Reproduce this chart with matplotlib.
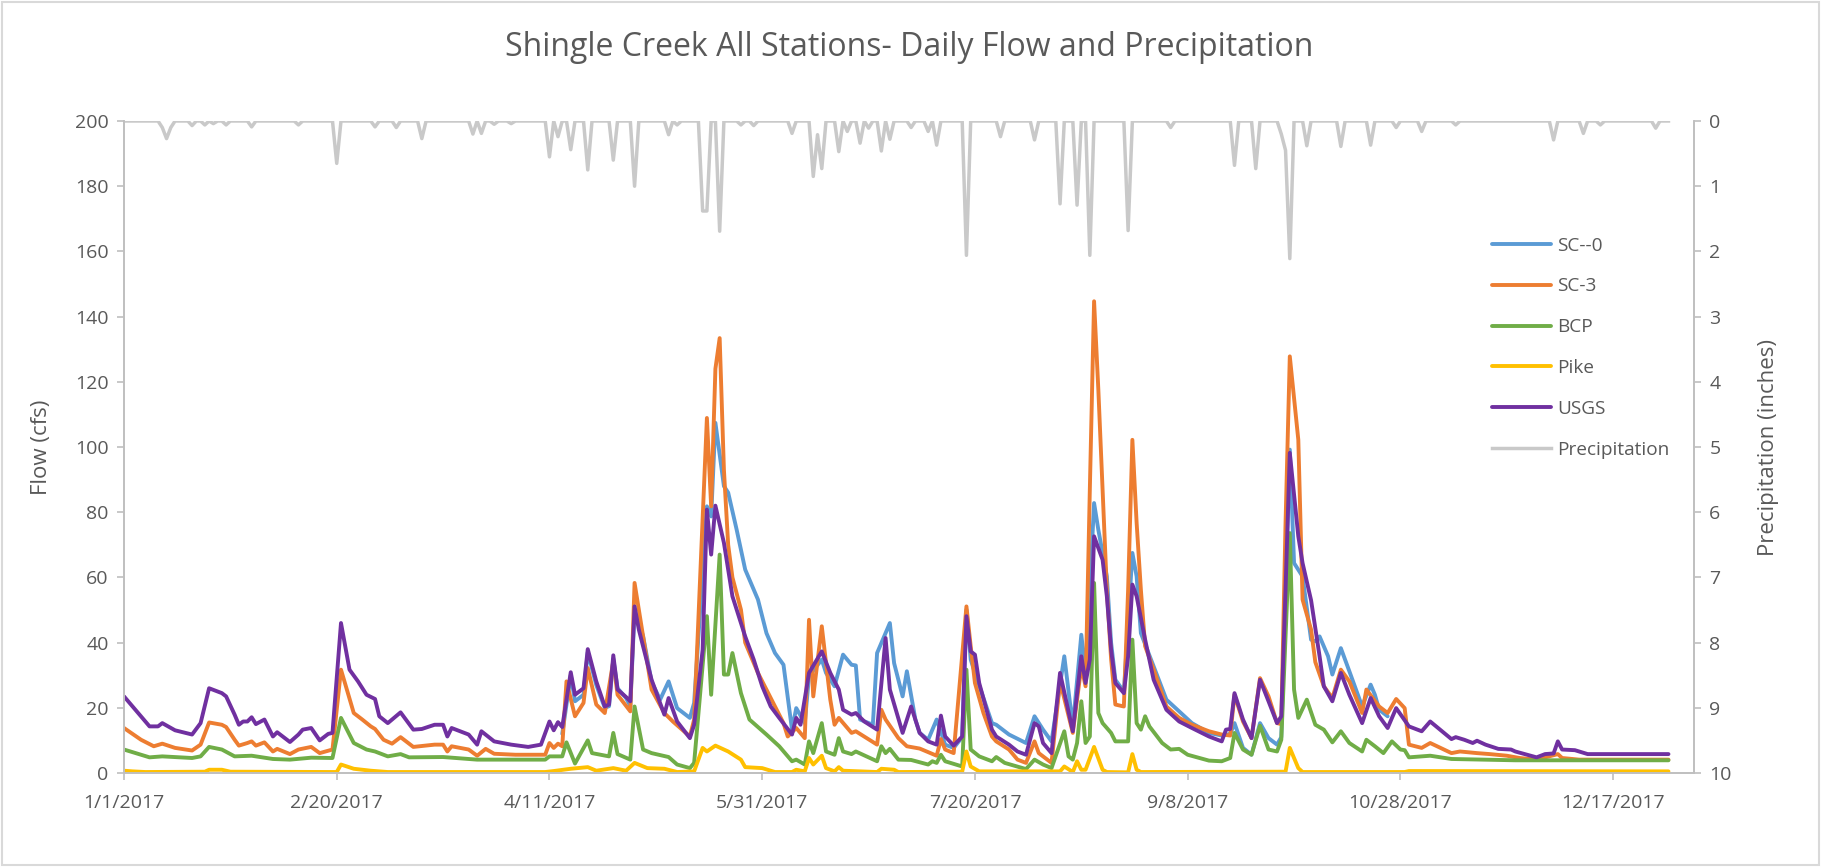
import numpy as np
import pandas as pd
import matplotlib
matplotlib.use('Agg')
import matplotlib.pyplot as plt
from matplotlib.ticker import FuncFormatter, MultipleLocator
from matplotlib.patches import Rectangle

# day-of-year (0 = 1/1/2017) and daily flow (cfs)
sc0_day = [103, 105, 106, 108, 109, 111, 113, 114, 115, 116, 118, 119, 120, 122, 124, 126, 128, 130, 133, 134,
           137, 138, 139, 141, 142, 144, 146, 149, 151, 153, 155, 157, 158, 160, 161, 164, 165, 167, 169, 171,
           172, 173, 176, 177, 180, 181, 183, 184, 186, 187, 189, 191, 193, 195, 197, 198, 199, 200, 204, 205,
           208, 212, 214, 216, 218, 221, 223, 225, 226, 228, 229, 231, 232, 233, 235, 236, 237, 238, 239, 242,
           245, 248, 251, 255, 258, 260, 261, 263, 265, 267, 269, 271, 272, 274, 275, 277, 279, 280, 281, 283,
           284, 286, 288, 291, 293, 294, 295, 297]
sc0_cfs = [12, 30, 22, 24, 37, 27, 20, 20.5, 35, 26, 23, 20.5, 50, 42, 28, 22.5, 28.1, 19.9, 16.9, 21.5,
           81.8, 78.7, 107.4, 88, 86, 74.6, 62.4, 53.2, 42.9, 36.8, 33.2, 13.3, 19.9, 15.3, 29.7, 34.8, 30.7, 26.6, 36.3, 33.2,
           33, 16.4, 14.8, 36.8, 46, 33.7, 23.5, 31.2, 16.4, 12.3, 10.2, 16.4, 8.7, 7.7, 11, 50.1, 34.8, 30.7, 15.3, 14.8,
           11.8, 9.2, 17.4, 13.3, 9.7, 35.8, 14.3, 42.4, 30.7, 82.8, 74.6, 60.3, 40, 28.6, 25, 46, 67.5, 60.3, 42.9, 32.7,
           22.5, 18.9, 15.3, 12.3, 11.5, 12, 15.3, 7.7, 5.6, 15.3, 10.7, 8.7, 11, 99.2, 64.4, 60.3, 40.9, 40.4, 41.9, 35.8,
           30.2, 38.3, 31.2, 20.4, 27.1, 24, 19.4, 17.4]

sc3_day = [0, 4, 7, 9, 12, 16, 18, 20, 23, 24, 26, 27, 29, 30, 31, 33, 35, 36, 39, 41, 44, 46, 49, 51, 54, 56, 58, 59,
           61, 63, 65, 68, 73, 75, 76, 77, 81, 83, 85, 87, 92, 99, 100, 101, 102, 103, 104, 106, 108, 109, 111, 113,
           115, 116, 119, 120, 122, 124, 127, 129, 133, 134, 137, 138, 139, 140, 141, 142, 143, 145, 146, 149, 153,
           155, 156, 158, 160, 161, 162, 164, 166, 167, 168, 171, 172, 177, 178, 179, 182, 184, 187, 191, 192, 193,
           195, 198, 199, 200, 202, 204, 205, 208, 210, 212, 214, 215, 218, 220, 223, 225, 226, 227, 228, 229, 230,
           231, 232, 233, 235, 236, 237, 238, 239, 240, 242, 245, 248, 251, 255, 258, 260, 261, 263, 265, 267, 269,
           271, 272, 273, 274, 276, 277, 279, 280, 282, 284, 286, 288, 291, 292, 295, 297, 299, 301, 302, 305, 307,
           312, 314, 318, 321, 325, 328, 332, 337, 338, 342, 363]
sc3_cfs = [13.8, 10.2, 8.2, 9, 7.7, 6.9, 8.7, 15.5, 14.8, 14.1, 10.2, 8.4, 9.2, 9.7, 8.4, 9.4, 6.6, 7.4, 5.8, 7.2, 8, 6.1, 7.2, 31.7, 18.4, 16.4, 14.3, 13.5,
           10.2, 9, 11, 8, 8.7, 8.7, 6.6, 8.2, 7.2, 5.3, 7.4, 5.9, 5.6, 5.6, 9.2, 7.7, 9, 8.2, 28.1, 17.4, 21.5, 32.2, 21, 18.4,
           34.3, 24, 18.9, 58.3, 41.9, 25.6, 18.4, 15.8, 11.2, 16.4, 108.9, 81.8, 124, 133.4, 93, 70, 60, 50.1, 40, 30.7, 20.4,
           15.3, 11.2, 13.8, 10.7, 47, 23.5, 45, 22.5, 14.8, 16.9, 12.3, 12.8, 8.7, 19.4, 16.4, 10.7, 8.2, 7.5, 5.3, 10.4, 7.2,
           6.1, 51.1, 38.9, 27.6, 18.4, 11.2, 9.7, 7.2, 4.1, 3.1, 9.7, 6.1, 3.1, 28.1, 12.3, 32.7, 26.6, 86.9, 144.7, 117.6, 86.9,
           56.2, 35, 21, 20.4, 56.2, 102.2, 76.7, 56.2, 38.9, 31.7, 20.4, 16.9, 14.8, 12.8, 11.8, 11.5, 24, 15.8, 10.7, 29.1, 23.5,
           15.3, 15, 76.7, 127.8, 102.2, 53.2, 44, 34, 26.6, 23, 31.7, 28.1, 18.4, 25.6, 20.4, 18.4, 22.7, 19.9, 8.7, 7.7, 9.2,
           6.1, 6.6, 6.1, 5.8, 5.3, 4.6, 4.1, 5.8, 4.6, 4.1, 4.1]

bcp_day = [0, 6, 9, 16, 18, 20, 23, 26, 30, 35, 39, 44, 49, 51, 54, 57, 59, 62, 65, 67, 75, 83, 99, 100, 103, 104, 106,
           109, 110, 114, 115, 116, 119, 120, 122, 124, 128, 130, 133, 134, 137, 138, 140, 141, 142, 143, 145, 147,
           151, 154, 157, 158, 160, 161, 162, 164, 165, 167, 168, 169, 171, 172, 177, 178, 179, 180, 182, 185, 189,
           190, 191, 192, 193, 197, 198, 199, 201, 204, 205, 207, 212, 214, 216, 218, 221, 222, 223, 224, 225, 226,
           227, 228, 229, 230, 232, 233, 236, 237, 238, 239, 240, 241, 244, 246, 248, 250, 255, 258, 260, 261, 263,
           265, 267, 269, 271, 272, 274, 275, 276, 278, 280, 282, 284, 286, 288, 291, 292, 294, 296, 298, 300, 301,
           302, 307, 312, 327, 363]
bcp_cfs = [7.2, 4.8, 5.1, 4.6, 5.1, 8, 7.2, 5.1, 5.3, 4.3, 4.1, 4.7, 4.6, 16.9, 9.2, 7.2, 6.6, 5.1, 5.8, 4.8, 4.9, 4.1, 4.1, 5.1, 5.1, 9.4, 2.9,
           10, 6.1, 5.1, 12.3, 5.8, 4.1, 20.4, 7.2, 6.1, 4.9, 2.6, 1.5, 3.1, 48.1, 24, 67, 30.2, 30.2, 36.8, 24.5, 16.4,
           11.8, 8.2, 3.6, 4.1, 2.6, 9.7, 6.1, 15.3, 6.6, 5.6, 10.7, 6.6, 5.8, 6.6, 3.6, 8.2, 6.1, 7.4, 4.1, 4, 2.6,
           3.6, 3.1, 5.6, 3.6, 2, 31.7, 7.2, 5.1, 3.6, 4.9, 3.1, 1.2, 4.1, 2.6, 1.5, 12.8, 5.1, 4.1, 9.2, 22, 9.2,
           11.2, 58.3, 18.4, 15.3, 12.3, 9.7, 9.7, 40.9, 15.3, 13.3, 17.4, 14.3, 9.2, 7.2, 7.4, 5.6, 3.8, 3.6, 4.6, 12.3, 7.2,
           5.6, 14.5, 7.2, 6.6, 10.2, 73.6, 25.6, 16.9, 22.5, 14.8, 13.3, 9.4, 12.8, 9.2, 6.6, 10.2, 8.2, 6.1, 9.7, 7.2, 7,
           4.8, 5.3, 4.3, 3.9, 3.9]

pike_day = [0, 2, 5, 19, 20, 23, 25, 50, 51, 54, 58, 62, 99, 101, 105, 109, 111, 115, 118, 120, 123, 127, 130, 134,
            136, 137, 139, 142, 145, 146, 150, 153, 157, 158, 160, 161, 162, 164, 165, 167, 168, 169, 177, 178, 181,
            182, 197, 198, 199, 201, 220, 221, 223, 224, 225, 226, 228, 230, 231, 236, 237, 238, 239, 273, 274, 276,
            277, 301, 302, 363]
pike_cfs = [0.7, 0.5, 0.3, 0.4, 1, 1, 0.4, 0.3, 2.6, 1.3, 0.7, 0.3, 0.3, 0.6, 1.3, 1.8, 0.7, 1.5, 0.7, 3.1, 1.5, 1.3, 0.3, 0.5,
            7.7, 6.6, 8.4, 6.6, 4.1, 1.8, 1.5, 0.3, 0.3, 1, 0.5, 4.6, 2.6, 5.3, 1.5, 0.5, 1.8, 0.7, 0.3, 1.3, 1,
            0.3, 0.4, 6.6, 2, 0.5, 0.5, 2, 0.3, 3.6, 1, 1, 8, 1, 0.3, 0.2, 5.8, 1, 0.3, 0.4, 7.7, 1.5,
            0.3, 0.3, 0.6, 0.5]

usgs_day = [0, 4, 6, 8, 9, 12, 16, 18, 20, 23, 24, 26, 27, 28, 29, 30, 31, 33, 35, 36, 39, 41, 42, 44, 46, 48, 49, 51,
            53, 55, 57, 59, 60, 62, 65, 68, 70, 73, 75, 76, 77, 81, 83, 84, 87, 91, 95, 98, 100, 101, 102, 103, 105,
            106, 108, 109, 111, 113, 114, 115, 116, 118, 119, 120, 121, 124, 127, 128, 130, 133, 134, 136, 137, 138,
            139, 141, 143, 146, 148, 150, 152, 154, 157, 158, 159, 161, 164, 166, 168, 169, 171, 172, 174, 177, 179,
            180, 183, 185, 187, 189, 191, 192, 193, 195, 197, 198, 199, 200, 201, 204, 205, 208, 210, 212, 214, 215,
            216, 218, 220, 223, 225, 226, 227, 228, 230, 231, 232, 233, 235, 236, 237, 238, 240, 242, 245, 248, 251,
            255, 258, 259, 260, 261, 263, 265, 267, 269, 271, 272, 273, 274, 276, 277, 279, 281, 282, 284, 286, 288,
            291, 293, 295, 297, 299, 302, 305, 307, 312, 313, 315, 317, 318, 320, 323, 326, 327, 332, 334, 336, 337,
            338, 341, 344, 363]
usgs_cfs = [23.5, 17.4, 14.3, 14.3, 15.3, 13.1, 11.8, 15.3, 26, 24.5, 23.5, 17.9, 14.8, 15.8, 15.8, 17.1, 15, 16.4, 11.2, 12.5, 9.5, 11.8, 13.3, 13.8, 10, 12, 12.3, 46,
            31.7, 28.1, 24, 22.7, 17.4, 15.3, 18.6, 13.3, 13.5, 14.8, 14.8, 11.2, 13.8, 11.8, 8.7, 12.8, 9.7, 8.7, 8, 8.7, 15.8, 13.1, 15.6, 14.1, 30.9,
            24, 26, 38, 28.1, 20.4, 21, 36.1, 25.6, 23.3, 22, 51.1, 44, 28.6, 17.9, 23, 15.8, 10.7, 14.8, 37.8, 80.8, 67,
            82, 70.6, 54.2, 41.9, 34.8, 26.6, 20.4, 16.9, 11.8, 16.9, 14.8, 30.7, 37.3, 30.7, 25.6, 19.4, 17.9, 18.4, 15.8, 13.3, 41.4,
            25.6, 12.3, 20.4, 12.3, 9.7, 8.7, 17.6, 11.2, 8.4, 11.2, 48.1, 37.3, 36.3, 27.6, 13.3, 11.2, 8.7, 6.6, 5.6, 15.3, 14.3,
            9.2, 6.1, 30.7, 12.8, 35.8, 27.6, 34.8, 72.6, 65.4, 54.2, 37.8, 27.6, 24.5, 35.8, 57.8, 54.2, 40.9, 28.6, 19.4, 15.8, 13.8,
            11.2, 9.7, 13.3, 13.5, 24.5, 16.4, 10.7, 28.6, 22, 15.3, 17.4, 56.2, 98.2, 72.6, 64.4, 53, 35.8, 26.6, 22, 30.7, 24,
            15.3, 23, 17.4, 13.8, 19.9, 14.3, 12.8, 15.8, 10.4, 11, 10.2, 9.2, 9.9, 8.7, 7.4, 7.2, 6.6, 4.8, 5.8, 6, 9.7,
            7.2, 7, 5.8, 5.8]

# precipitation (inches) on rainy days; all other days are 0
rain_day = [9, 10, 11, 16, 19, 21, 24, 30, 41, 50, 59, 64, 70, 82, 84, 87, 91, 100, 102, 105, 109, 115, 120, 128, 130,
            136, 137, 140, 145, 148, 157, 162, 163, 164, 168, 170, 173, 175, 178, 180, 185, 189, 191, 198, 206, 214,
            220, 224, 227, 236, 246, 261, 266, 272, 273, 274, 278, 286, 293, 299, 305, 313, 336, 343, 347, 360]
rain_in = [0.1, 0.27, 0.1, 0.07, 0.06, 0.04, 0.06, 0.09, 0.06, 0.65, 0.09, 0.1, 0.27, 0.2, 0.19, 0.05, 0.04, 0.55, 0.24, 0.44, 0.75, 0.6, 1.0, 0.21, 0.06,
           1.38, 1.38, 1.69, 0.06, 0.07, 0.19, 0.85, 0.21, 0.73, 0.47, 0.16, 0.34, 0.11, 0.46, 0.28, 0.1, 0.16, 0.37, 2.06, 0.24, 0.29,
           1.27, 1.29, 2.06, 1.68, 0.1, 0.68, 0.73, 0.2, 0.45, 2.11, 0.38, 0.39, 0.37, 0.1, 0.16, 0.06, 0.29, 0.19, 0.06, 0.11]

last_day = 363
start = pd.Timestamp('2017-01-01')

precip = pd.Series(0.0, index=np.arange(last_day + 1))
precip.loc[rain_day] = rain_in

text_col = '#595959'
axis_col = '#BFBFBF'
plt.rcParams['font.family'] = ['Open Sans', 'DejaVu Sans']

fig = plt.figure(figsize=(18.21, 8.67), dpi=100)
ax = fig.add_axes([124 / 1821, 1 - 773 / 867, 1570 / 1821, 652 / 867])
ax2 = ax.twinx()

series = [
    ('SC--0', sc0_day, sc0_cfs, '#5B9BD5'),
    ('SC-3', sc3_day, sc3_cfs, '#ED7D31'),
    ('BCP', bcp_day, bcp_cfs, '#70AD47'),
    ('Pike', pike_day, pike_cfs, '#FFC000'),
    ('USGS', usgs_day, usgs_cfs, '#7030A0'),
]
handles = []
for name, d, v, c in series:
    h, = ax.plot(d, v, color=c, lw=2.8, label=name, solid_joinstyle='round', solid_capstyle='round')
    handles.append(h)

hp, = ax2.plot(precip.index, precip.values, color='#C9C9C9', lw=2.5, label='Precipitation',
               solid_joinstyle='round')
handles.append(hp)

ax.set_xlim(0, 369)
ax.set_ylim(0, 200)
ax.yaxis.set_major_locator(MultipleLocator(20))
ax.xaxis.set_major_locator(MultipleLocator(50))


def day_label(x, pos):
    d = start + pd.Timedelta(days=int(round(x)))
    return f'{d.month}/{d.day}/{d.year}'


ax.xaxis.set_major_formatter(FuncFormatter(day_label))

ax2.set_ylim(10, 0)
ax2.set_yticks(range(0, 11))

for a in (ax, ax2):
    for s in a.spines.values():
        s.set_color(axis_col)
        s.set_linewidth(1.2)
    a.spines['top'].set_visible(False)
    a.tick_params(colors=axis_col, labelcolor=text_col, labelsize=14, length=5, width=1.2)
ax.tick_params(axis='x', pad=10)
ax.tick_params(axis='y', pad=6)
ax2.tick_params(axis='y', pad=6)

ax.set_ylabel('Flow (cfs)', color=text_col, fontsize=16)
ax.yaxis.set_label_coords(-0.046, 0.5)
ax2.set_ylabel('Precipitation (inches)', color=text_col, fontsize=16)
ax2.yaxis.set_label_coords(1.041, 0.5)

fig.text(0.4995, 0.945, 'Shingle Creek All Stations- Daily Flow and Precipitation',
         ha='center', va='center', fontsize=23, color=text_col)

ax2.legend(handles=handles, loc='upper left', bbox_to_anchor=(1482 / 1821, 1 - 227 / 867),
           bbox_transform=fig.transFigure, frameon=False, fontsize=13.7, handlelength=3.1,
           handletextpad=0.35, labelspacing=1.2, borderpad=0, labelcolor=text_col)

fig.patches.append(Rectangle((0.001, 0.002), 0.998, 0.996, transform=fig.transFigure,
                             fill=False, edgecolor='#D9D9D9', linewidth=1.5))

fig.savefig('out.png', dpi=100, facecolor='white')
